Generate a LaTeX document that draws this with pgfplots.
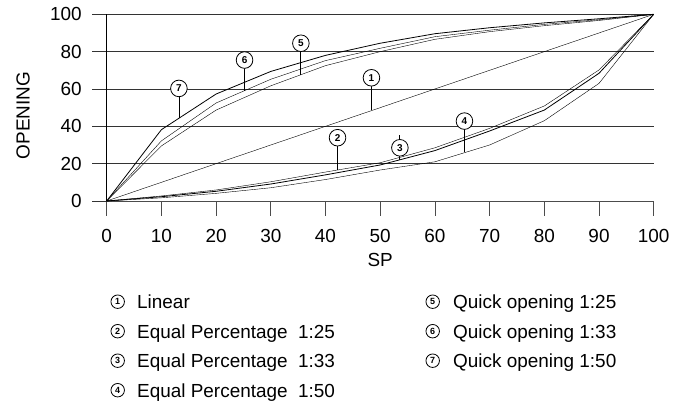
\documentclass[border=0pt]{standalone}
\usepackage{pgfplots}
\pgfplotsset{compat=1.18}
\usepackage{fontspec}
\setmainfont{Liberation Sans}
\begin{document}
\fontsize{19}{23}\selectfont
\begin{tikzpicture}
\path[use as bounding box] (-106.7bp,-201bp) rectangle (566.3bp,201bp);
\begin{axis}[
  at={(0,0)}, anchor=south west,
  scale only axis, width=547bp, height=186.7bp,
  xmin=0, xmax=100, ymin=0, ymax=100,
  axis x line*=bottom, axis y line*=left,
  xtick={0,10,...,100}, ytick={0,20,...,100},
  tick align=outside, major tick length=14.5bp,
  ymajorgrids, grid style={black!80, line width=0.8bp},
  x axis line style={black!70, line width=0.8bp},
  y axis line style={black, line width=0.8bp},
  xtick style={black!70, line width=0.8bp},
  ytick style={black!80, line width=0.8bp},
  /pgf/number format/assume math mode=true,
  tick label style={font=\fontsize{19}{23}\selectfont},
  xticklabel style={yshift=-7bp},
  yticklabel style={xshift=-4bp},
  xlabel={SP}, ylabel={OPENING},
  label style={font=\fontsize{19}{23}\selectfont},
  xlabel style={at={(axis description cs:0.5,-0.316)}, anchor=center},
  ylabel style={at={(axis description cs:-0.153,0.457)}, anchor=center},
  clip=false,
  cycle list={{black, solid, line width=0.8bp, no marks}},
]
% 1 Linear
\addplot coordinates {(0,0) (100,100)};
% 2 Equal percentage 1:25
\addplot coordinates {(0,0) (10,2.7) (20,5.9) (30,10.3) (40,15.5) (50,20.5) (60,28.5) (70,38.9) (80,50.9) (90,70.2) (100,100)};
% 3 Equal percentage 1:33
\addplot coordinates {(0,0) (10,2.3) (20,5.2) (30,9.1) (40,14.0) (50,19.3) (60,27.0) (70,37.5) (80,48.7) (90,68.4) (100,100)};
% 4 Equal percentage 1:50
\addplot coordinates {(0,0) (10,1.7) (20,4.1) (30,7.1) (40,11.5) (50,16.6) (60,21.0) (70,30.0) (80,43.0) (90,63.0) (100,100)};
% 5 Quick opening 1:25
\addplot coordinates {(0,0) (10,29.5) (20,48.7) (30,61.7) (40,72.5) (50,80.0) (60,86.6) (70,90.7) (80,93.9) (90,96.7) (100,100)};
% 6 Quick opening 1:33
\addplot coordinates {(0,0) (10,32.2) (20,52.5) (30,65.2) (40,75.2) (50,81.8) (60,88.0) (70,91.5) (80,94.6) (90,97.1) (100,100)};
% 7 Quick opening 1:50
\addplot coordinates {(0,0) (10,38.2) (20,57.3) (30,69.4) (40,78.0) (50,84.5) (60,89.6) (70,92.8) (80,95.4) (90,97.6) (100,100)};
% leader lines
\draw[black, line width=0.8bp] (axis cs:48.4,66) -- (axis cs:48.4,48.5);
\draw[black, line width=0.8bp] (axis cs:42.2,33.9) -- (axis cs:42.2,16.6);
\draw[black, line width=0.8bp] (axis cs:53.6,35.3) -- (axis cs:53.6,22.0);
\draw[black, line width=0.8bp] (axis cs:65.4,42.8) -- (axis cs:65.4,26.0);
\draw[black, line width=0.8bp] (axis cs:35.5,84.5) -- (axis cs:35.5,67.4);
\draw[black, line width=0.8bp] (axis cs:25.2,75.5) -- (axis cs:25.2,59.1);
\draw[black, line width=0.8bp] (axis cs:13.2,60.3) -- (axis cs:13.2,44.3);
\tikzset{cn/.style={circle, draw=black, fill=white, minimum size=16.6bp, inner sep=0pt, line width=0.8bp, font=\bfseries\fontsize{10}{10}\selectfont}}
\node[cn] at (axis cs:48.4,66) {1};
\node[cn] at (axis cs:42.2,33.9) {2};
\node[cn] at (axis cs:53.6,28.5) {3};
\node[cn] at (axis cs:65.4,42.8) {4};
\node[cn] at (axis cs:35.5,84.5) {5};
\node[cn] at (axis cs:25.2,75.5) {6};
\node[cn] at (axis cs:13.2,60.3) {7};
\end{axis}
% legend
\tikzset{ln/.style={circle, draw=black, minimum size=13.5bp, inner sep=0pt, line width=0.8bp, font=\bfseries\fontsize{9}{9}\selectfont},
         lt/.style={anchor=base west, inner sep=0pt, font=\fontsize{19}{23}\selectfont}}
\foreach \n/\t [count=\i from 0] in {1/Linear, 2/Equal Percentage\ \ 1:25, 3/Equal Percentage\ \ 1:33, 4/Equal Percentage\ \ 1:50} {
  \node[ln] at (11bp,{-100.7bp-29.5bp*\i}) {\n};
  \node[lt] at (30.3bp,{-107.7bp-29.5bp*\i}) {\t};
}
\foreach \n/\t [count=\i from 0] in {5/Quick opening 1:25, 6/Quick opening 1:33, 7/Quick opening 1:50} {
  \node[ln] at (326bp,{-100.7bp-29.5bp*\i}) {\n};
  \node[lt] at (346.3bp,{-107.7bp-29.5bp*\i}) {\t};
}
\end{tikzpicture}
\end{document}
